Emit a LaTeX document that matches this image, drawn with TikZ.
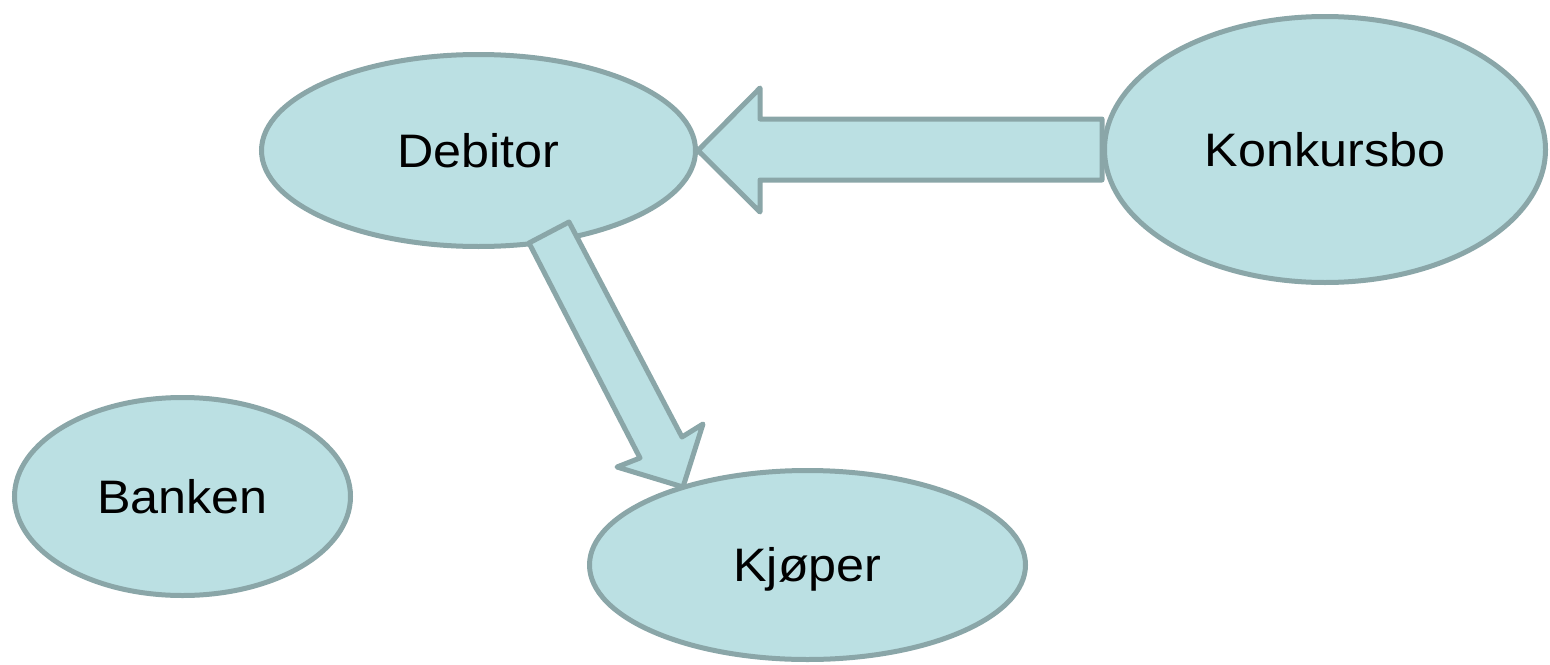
\documentclass[tikz,border=0pt]{standalone}
\usepackage{fontspec}
\setmainfont[FakeStretch=1.07]{Liberation Sans}
\usetikzlibrary{shapes.geometric}
\definecolor{bubblefill}{HTML}{BBE0E3}
\definecolor{bubbleline}{HTML}{8AA6A8}
\tikzset{
  bubble/.style={ellipse, draw=bubbleline, fill=bubblefill, line width=5pt, inner sep=0pt,
    font=\fontsize{47}{56}\selectfont, text height=33.6pt, text depth=0pt},
  blockarrow/.style={draw=bubbleline, fill=bubblefill, line width=5pt, line join=round}
}
\begin{document}
\begin{tikzpicture}[x=1pt,y=-1pt]
\useasboundingbox (0,0) rectangle (1550,664);
\node[bubble, minimum width=434pt, minimum height=192pt] (debitor) at (478.5,150.5) {Debitor};
\node[bubble, minimum width=441pt, minimum height=266pt] (konkurs) at (1325,149.5) {Konkursbo};
\node[bubble, minimum width=336pt, minimum height=198pt] (banken) at (182.5,496.5) {Banken};
\node[bubble, minimum width=436pt, minimum height=189pt] (kjoper) at (807.5,565) {Kjøper};
% arrow Konkursbo -> Debitor
\draw[blockarrow] (konkurs.west |- 0,119) -- (760,119) -- (760,88) -- (debitor.east) -- (760,212) -- (760,180) -- (konkurs.west |- 0,180) -- cycle;
% arrow Debitor -> Kjoper
\draw[blockarrow] (529,243) -- (569,222) -- (682,437) -- (703,424) -- (683,487) -- (617,467) -- (640,458) -- cycle;
\end{tikzpicture}
\end{document}
